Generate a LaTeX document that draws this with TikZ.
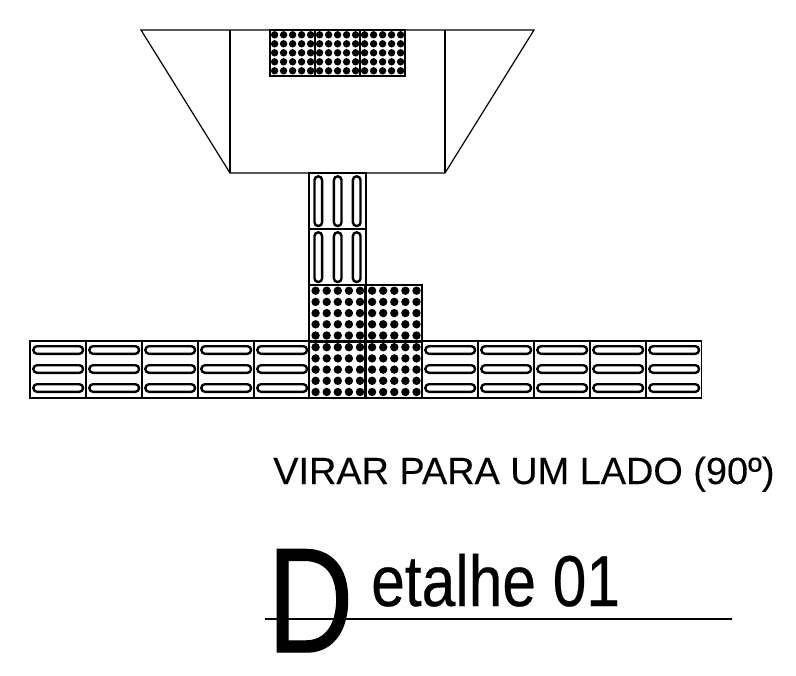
\documentclass[tikz,border=0pt]{standalone}
\usepackage{fontspec}
\setmainfont{Liberation Sans}
\newfontfamily\heavyA[FakeBold=0.8]{Liberation Sans}
\newfontfamily\heavyB[FakeBold=0.4]{Liberation Sans}
\newfontfamily\heavyC[FakeBold=0.15]{Liberation Sans}
\tikzset{
  outline/.style={draw=black,line width=0.9pt},
  tile/.style={draw=black,line width=1.2pt},
  bar/.style={draw=black,line width=1.8pt,rounded corners=2.7pt},
  dotsmall/.style={fill=black,draw=none},
  txt/.style={inner sep=0pt,anchor=base west,text=black}
}
\begin{document}
\begin{tikzpicture}[x=0.75pt,y=-0.75pt]
\useasboundingbox (0,0) rectangle (796,675);
% ramp
\draw[outline] (141,30) -- (534,30) -- (445,173) -- (230,173) -- cycle;
\draw[outline] (230,30) -- (230,173);
\draw[outline] (445,30) -- (445,173);
% top dotted tiles
\foreach \tx in {270,315,360}{
  \foreach \i in {0,...,4}{\foreach \j in {0,...,4}{
    \fill[dotsmall] ({\tx+4.6+9*\i},{34.8+9*\j}) circle (3.7);
  }}
  \draw[black,line width=1.7pt] (\tx,30) rectangle ++(45,46);
}
% vertical guide tiles
\foreach \ty in {173,229}{
  \draw[tile] (309,\ty) rectangle (366,\ty+56);
  \foreach \bx in {318.3,337.7,356.7}{
    \draw[bar] (\bx-3.8,\ty+3.4) rectangle (\bx+3.8,\ty+53);
  }
}
% horizontal guide tiles
\foreach \tx in {30,86,142,198,254,422,478,534,590,646}{
  \draw[tile] (\tx,341) rectangle (\tx+55.5,398);
  \foreach \by in {350,369,388}{
    \draw[bar] (\tx+3.4,\by-3.8) rectangle (\tx+53,\by+3.8);
  }
}
% lower dotted tiles
\foreach \tx/\ty in {309/285,365.5/285,309/341.5,365.5/341.5}{
  \fill[white] (\tx,\ty) rectangle ++(56.5,56.5);
  \foreach \i in {0,...,4}{\foreach \j in {0,...,4}{
    \fill[dotsmall] ({\tx+6.6+11.1*\i},{\ty+5.7+11.2*\j}) circle (4.2);
  }}
  \draw[black,line width=1.7pt] (\tx,\ty) rectangle ++(56.5,56.5);
}
% texts
\node[txt,font=\heavyC\fontsize{28.4pt}{30pt}\selectfont] (caption) at (273,484) {VIRAR PARA UM LADO (90º)};
\node[txt,font=\heavyA\fontsize{112pt}{112pt}\selectfont,xscale=0.8] (bigd) at (267,652) {D};
\node[txt,font=\heavyB\fontsize{54pt}{54pt}\selectfont,xscale=0.84] (title) at (371,606) {etalhe 01};
\draw[black,line width=1.6pt] (265,619) -- (732,619);
\end{tikzpicture}
\end{document}
